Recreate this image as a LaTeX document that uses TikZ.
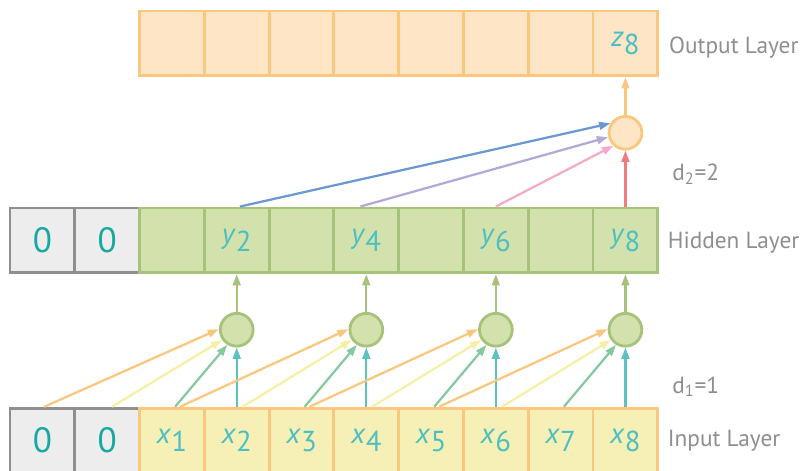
\documentclass[tikz,border=0pt]{standalone}
\usepackage{fontspec}
\setmainfont{PT Sans}
\usetikzlibrary{arrows.meta}

\definecolor{padfill}{HTML}{EDEDED}
\definecolor{padline}{HTML}{8F8F8F}
\definecolor{infill}{HTML}{F6F0B6}
\definecolor{inline}{HTML}{F9C77D}
\definecolor{hidfill}{HTML}{D3E2AC}
\definecolor{hidline}{HTML}{A6C27B}
\definecolor{outfill}{HTML}{FDE5C6}
\definecolor{outline}{HTML}{F9C77D}
\definecolor{zerotext}{HTML}{17A89F}
\definecolor{vartext}{HTML}{4CBFC1}
\definecolor{labelgray}{HTML}{8E8E8E}
\definecolor{arrorange}{HTML}{F9C77D}
\definecolor{arryellow}{HTML}{F5F0A6}
\definecolor{arrgreen}{HTML}{86C9A0}
\definecolor{arrteal}{HTML}{5BC2C2}
\definecolor{arrblue}{HTML}{6B97D2}
\definecolor{arrpurple}{HTML}{B3A8D8}
\definecolor{arrpink}{HTML}{F4AACB}
\definecolor{arrred}{HTML}{EF7C7F}

\newcommand{\cvar}[2]{\textit{#1}\raisebox{-5.5pt}{#2}}

\tikzset{
	cell/.style={draw, line width=2pt, minimum size=16.2mm, inner sep=0pt,
		text=vartext, font=\fontsize{20.5}{20.5}\selectfont},
	padcell/.style={cell, draw=padline, fill=padfill, text=zerotext,
		font=\fontsize{25}{25}\selectfont},
	incell/.style={cell, draw=inline, fill=infill},
	hidcell/.style={cell, draw=hidline, fill=hidfill},
	outcell/.style={cell, draw=outline, fill=outfill},
	hidunit/.style={circle, draw=hidline, fill=hidfill, line width=2pt,
		minimum size=8.2mm, inner sep=0pt},
	outunit/.style={hidunit, draw=outline, fill=outfill},
	conn/.style={line width=1.6pt, -{Triangle[length=8pt,width=5.5pt]}},
	lbl/.style={anchor=west, inner sep=0pt, text=labelgray,
		font=\fontsize{16.6}{16.6}\selectfont}
}

\begin{document}
\begin{tikzpicture}[x=1.62cm,y=1.62cm]
	\useasboundingbox (-0.154,0.031) rectangle (12.21,7.30);

	% Capa d'entrada
	\node[padcell] (in0) at (0.5,0.5) {0};
	\node[padcell] (in1) at (1.5,0.5) {0};
	\node[incell] (in2) at (2.5,0.5) {\cvar{x}{1}};
	\node[incell] (in3) at (3.5,0.5) {\cvar{x}{2}};
	\node[incell] (in4) at (4.5,0.5) {\cvar{x}{3}};
	\node[incell] (in5) at (5.5,0.5) {\cvar{x}{4}};
	\node[incell] (in6) at (6.5,0.5) {\cvar{x}{5}};
	\node[incell] (in7) at (7.5,0.5) {\cvar{x}{6}};
	\node[incell] (in8) at (8.5,0.5) {\cvar{x}{7}};
	\node[incell] (in9) at (9.5,0.5) {\cvar{x}{8}};

	% Capa oculta
	\node[padcell] (hid0) at (0.5,3.59) {0};
	\node[padcell] (hid1) at (1.5,3.59) {0};
	\node[hidcell] (hid2) at (2.5,3.59) {};
	\node[hidcell] (hid3) at (3.5,3.59) {\cvar{y}{2}};
	\node[hidcell] (hid4) at (4.5,3.59) {};
	\node[hidcell] (hid5) at (5.5,3.59) {\cvar{y}{4}};
	\node[hidcell] (hid6) at (6.5,3.59) {};
	\node[hidcell] (hid7) at (7.5,3.59) {\cvar{y}{6}};
	\node[hidcell] (hid8) at (8.5,3.59) {};
	\node[hidcell] (hid9) at (9.5,3.59) {\cvar{y}{8}};

	% Capa de sortida
	\node[outcell] (out2) at (2.5,6.63) {};
	\node[outcell] (out3) at (3.5,6.63) {};
	\node[outcell] (out4) at (4.5,6.63) {};
	\node[outcell] (out5) at (5.5,6.63) {};
	\node[outcell] (out6) at (6.5,6.63) {};
	\node[outcell] (out7) at (7.5,6.63) {};
	\node[outcell] (out8) at (8.5,6.63) {};
	\node[outcell] (out9) at (9.5,6.63) {\cvar{z}{8}};

	% Unitats
	\node[hidunit] (n2) at (3.5,2.21) {};
	\node[hidunit] (n4) at (5.5,2.21) {};
	\node[hidunit] (n6) at (7.5,2.21) {};
	\node[hidunit] (n8) at (9.5,2.21) {};
	\node[outunit] (o8) at (9.5,5.25) {};

	% Connexions amb d1=1
	\draw[conn,arrorange] ([xshift=0.5mm]in0.north) -- (n2.178);
	\draw[conn,arryellow] ([xshift=1.2mm]in1.north) -- (n2.215);
	\draw[conn,arrgreen] ([xshift=0.8mm]in2.north) -- (n2.238);
	\draw[conn,arrteal] (in3.north) -- (n2.south);

	\draw[conn,arrorange] ([xshift=2mm]in2.north) -- (n4.178);
	\draw[conn,arryellow] ([xshift=1.5mm]in3.north) -- (n4.215);
	\draw[conn,arrgreen] ([xshift=0.8mm]in4.north) -- (n4.238);
	\draw[conn,arrteal] (in5.north) -- (n4.south);

	\draw[conn,arrorange] ([xshift=2mm]in4.north) -- (n6.178);
	\draw[conn,arryellow] ([xshift=1.5mm]in5.north) -- (n6.215);
	\draw[conn,arrgreen] ([xshift=0.8mm]in6.north) -- (n6.238);
	\draw[conn,arrteal] (in7.north) -- (n6.south);

	\draw[conn,arrorange] ([xshift=2mm]in6.north) -- (n8.178);
	\draw[conn,arryellow] ([xshift=1.5mm]in7.north) -- (n8.215);
	\draw[conn,arrgreen] ([xshift=0.8mm]in8.north) -- (n8.238);
	\draw[conn,arrteal] (in9.north) -- (n8.south);

	\draw[conn,hidline] (n2.north) -- (hid3.south);
	\draw[conn,hidline] (n4.north) -- (hid5.south);
	\draw[conn,hidline] (n6.north) -- (hid7.south);
	\draw[conn,hidline] (n8.north) -- (hid9.south);

	% Connexions amb d2=2
	\draw[conn,arrblue] ([xshift=0.8mm]hid3.north) -- (o8.148);
	\draw[conn,arrpurple] ([xshift=-1.5mm]hid5.north) -- (o8.194);
	\draw[conn,arrpink] (hid7.north) -- (o8.227);
	\draw[conn,arrred] (hid9.north) -- (o8.south);
	\draw[conn,outline] (o8.north) -- (out9.south);

	% Etiquetes
	\node[lbl] (outlbl) at (10.17,6.57) {Output Layer};
	\node[lbl] (hidlbl) at (10.15,3.55) {Hidden Layer};
	\node[lbl] (inlbl) at (10.15,0.49) {Input Layer};
	\node[lbl] (dtwo) at (10.22,4.61) {d\textsubscript{2}=2};
	\node[lbl] (done) at (10.22,1.33) {d\textsubscript{1}=1};

\end{tikzpicture}
\end{document}
